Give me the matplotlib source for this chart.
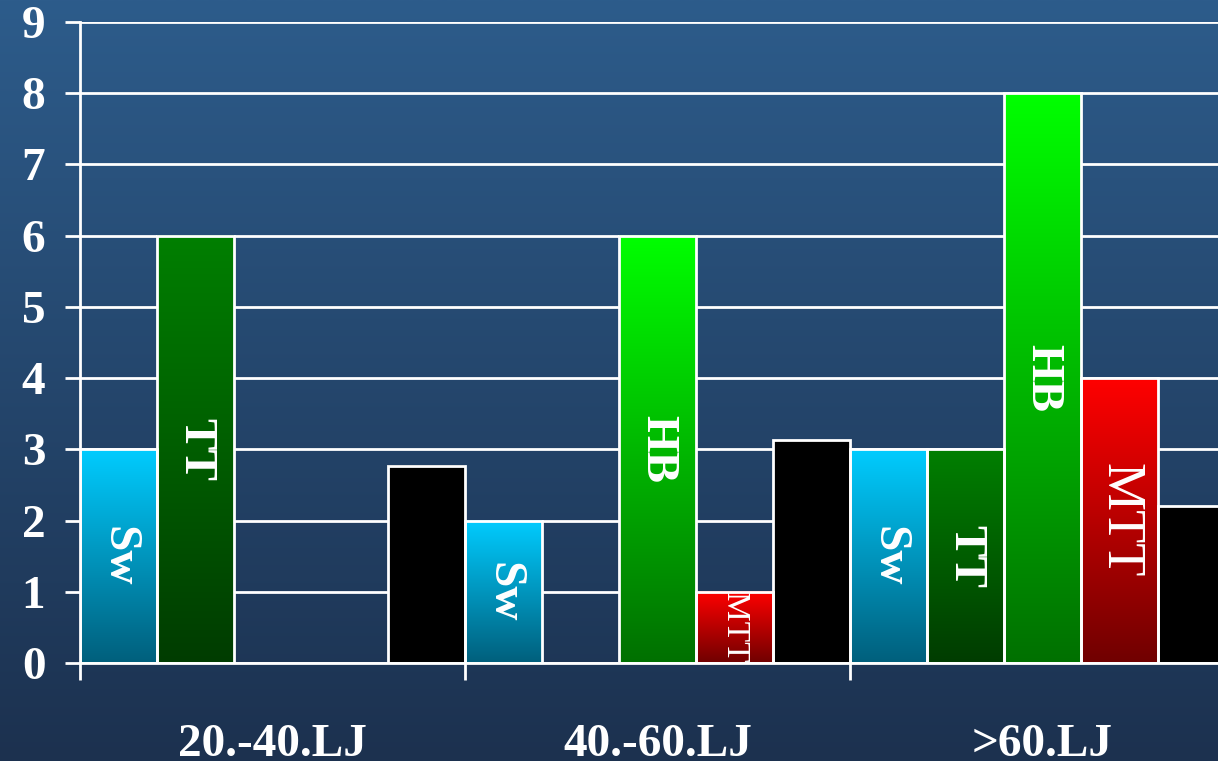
import numpy as np
import matplotlib.pyplot as plt
from matplotlib.colors import LinearSegmentedColormap

# データ
groups = ['20.-40.LJ', '40.-60.LJ', '>60.LJ']
series = ['Sw', 'TT', 'HB', 'MTT', '']
sw = [3, 2, 3]
tt = [6, 0, 3]
hb = [0, 6, 8]
mtt = [0, 1, 4]
other = [2.77, 3.13, 2.2]
values = [sw, tt, hb, mtt, other]

# 色 (上, 下)
bar_colors = [('#00ccff', '#005f7c'),
              ('#007f00', '#003c00'),
              ('#00ff00', '#007000'),
              ('#ff0000', '#700000'),
              ('#000000', '#000000')]

plt.rcParams['font.family'] = ['Liberation Serif', 'DejaVu Serif']
plt.rcParams['font.weight'] = 'bold'

fig = plt.figure(figsize=(12.18, 7.61), dpi=100)

# 背景のグラデーション
bg = fig.add_axes([0, 0, 1, 1])
bg_cmap = LinearSegmentedColormap.from_list('bg', ['#1c314f', '#2d5c8b'])
bg.imshow(np.linspace(0, 1, 256).reshape(-1, 1), cmap=bg_cmap, aspect='auto',
          origin='lower', extent=[0, 1, 0, 1])
bg.set_axis_off()

ax = fig.add_axes([80 / 1218, 1 - 663 / 761, 1155 / 1218, (663 - 22) / 761])
ax.patch.set_alpha(0)
ax.set_axisbelow(True)

width = 0.2
grad = np.linspace(0, 1, 256).reshape(-1, 1)
for j, (name, vals) in enumerate(zip(series, values)):
    cmap = LinearSegmentedColormap.from_list(name or 'blk', [bar_colors[j][1], bar_colors[j][0]])
    for i, v in enumerate(vals):
        if v == 0:
            continue
        x0 = i + (j - 2) * width - width / 2
        ax.imshow(grad, cmap=cmap, aspect='auto', origin='lower',
                  extent=[x0, x0 + width, 0, v], zorder=2)
        ax.bar(x0, v, width=width, align='edge', facecolor='none',
               edgecolor='white', linewidth=2, zorder=3)
        if name:
            if name == 'MTT':
                fs = 24 if v < 1.5 else 39
                fw = 'normal'
            else:
                fs, fw = 34, 'bold'
            ax.text(x0 + width / 2, v / 2, name, rotation=-90, color='white',
                    ha='center', va='center', fontsize=fs, fontweight=fw, zorder=4)

ax.set_xlim(-0.5, 2.5)
ax.set_ylim(0, 9)
ax.set_yticks(range(10))
ax.yaxis.grid(True, color='white', linewidth=2)
ax.tick_params(axis='y', colors='white', labelcolor='white', labelsize=34,
               length=11, width=2, pad=14)

ax.set_xticks([-0.5, 0.5, 1.5])
ax.set_xticklabels([])
ax.set_xticks(range(3), groups, minor=True)
ax.tick_params(axis='x', which='major', colors='white', length=12, width=2)
ax.tick_params(axis='x', which='minor', length=0, labelcolor='white',
               labelsize=34, pad=44)

for s in ['top', 'right']:
    ax.spines[s].set_visible(False)
ax.spines['left'].set_color('white')
ax.spines['left'].set_linewidth(2)
ax.spines['bottom'].set_color('white')
ax.spines['bottom'].set_linewidth(2)

fig.savefig('out.png', dpi=100)
